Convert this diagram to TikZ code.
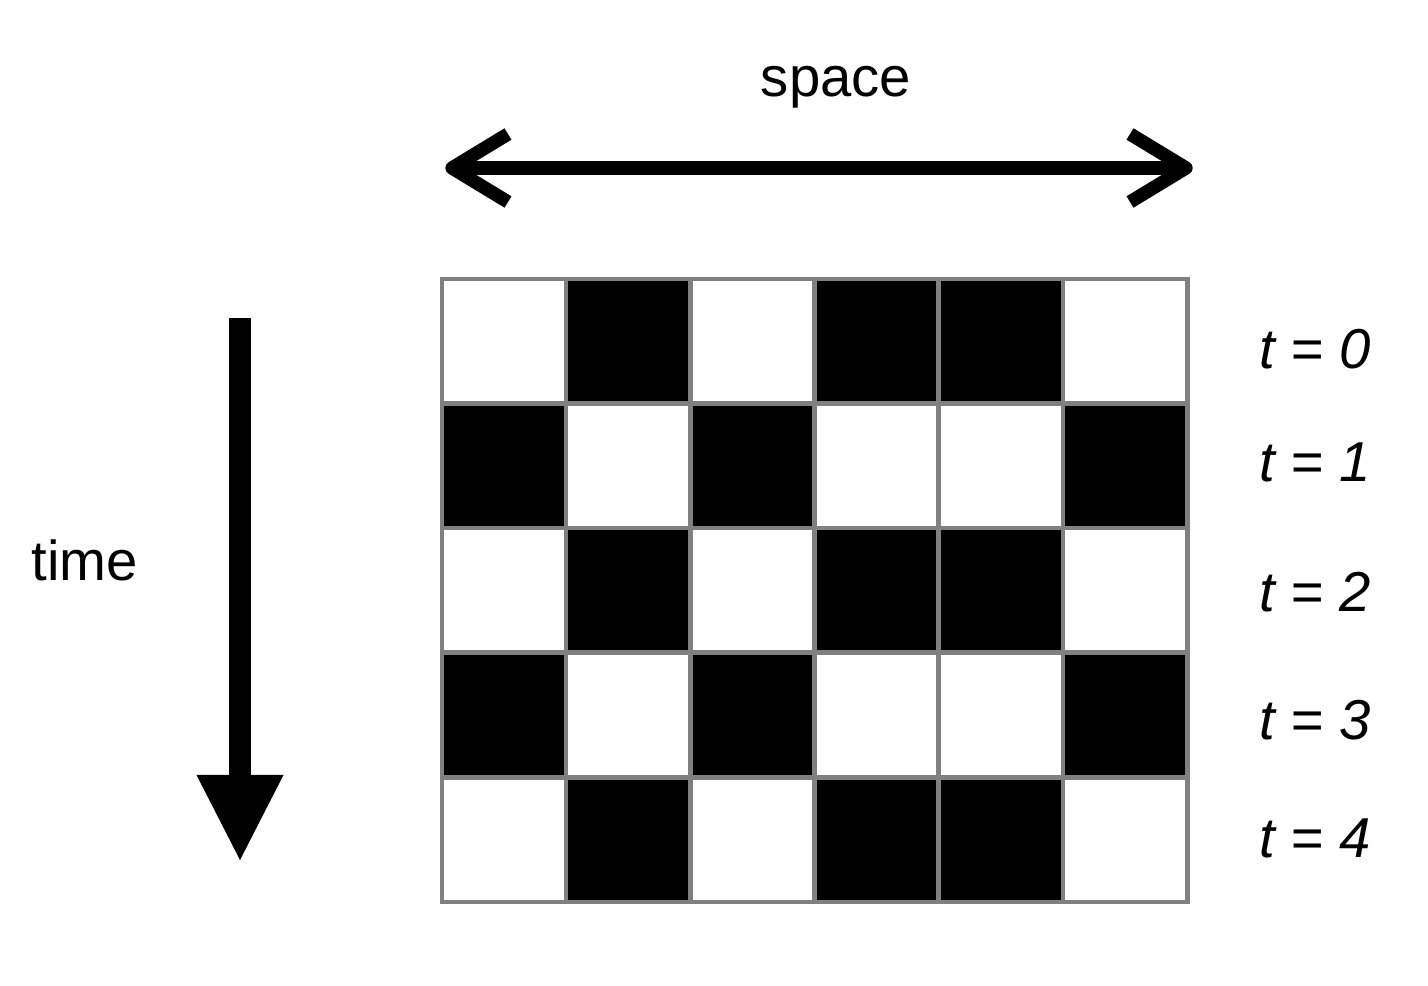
\documentclass[tikz,border=0pt]{standalone}
\usepackage{fontspec}
\setmainfont{Liberation Sans}
\usetikzlibrary{arrows.meta}
\begin{document}
\begin{tikzpicture}[x=0.01cm, y=-0.01cm]
	\tikzstyle{Cell} = [rectangle, minimum width=1.242cm, minimum height=1.246cm, inner sep=0pt, outer sep=0pt, draw=gray, line width=1.3pt]
	\tikzstyle{Label} = [font=\fontsize{16}{19}\selectfont, anchor=base, inner sep=0pt]
	\tikzstyle{TLabel} = [Label, font=\fontsize{16}{19}\selectfont\itshape]
	\tikzstyle{SpaceArrow} = [line width=3.8pt, line join=round]
	\tikzstyle{TimeArrow} = [line width=6pt, -{Triangle[length=0.85cm, width=0.87cm, line width=0pt]}]
	
	\useasboundingbox (0,0) rectangle (1428,986);
	
	% cells, row by row
	\foreach \row in {0,...,4}
		\foreach \col/\pat in {0/0,1/1,2/0,3/1,4/1,5/0} {
			\pgfmathtruncatemacro{\dark}{mod(\row+\pat,2)}
			\ifnum\dark=1 \def\cellfill{black}\else \def\cellfill{white}\fi
			\node (c\row\col) [Cell, fill=\cellfill] at ({504.1+124.2*\col},{341.3+124.6*\row}) {};
		}
	
	\node (space) [Label] at (836,97) {space};
	\node (time) [Label] at (85,581) {time};
	\node (t0) [TLabel] at (1315,369) {t = 0};
	\node (t1) [TLabel] at (1315,482) {t = 1};
	\node (t2) [TLabel] at (1315,612) {t = 2};
	\node (t3) [TLabel] at (1315,739) {t = 3};
	\node (t4) [TLabel] at (1315,857) {t = 4};
	
	\coordinate (sL) at (452,168);
	\coordinate (sR) at (1186,168);
	\draw [SpaceArrow] (sL) -- (sR);
	\draw [SpaceArrow] (sL) ++(56,-34) -- (sL) -- ++(56,34);
	\draw [SpaceArrow] (sR) ++(-56,-34) -- (sR) -- ++(-56,34);
	
	\coordinate (tTop) at (240,318);
	\coordinate (tTip) at (240,860);
	\draw [TimeArrow] (tTop) -- (tTip);
\end{tikzpicture}
\end{document}
